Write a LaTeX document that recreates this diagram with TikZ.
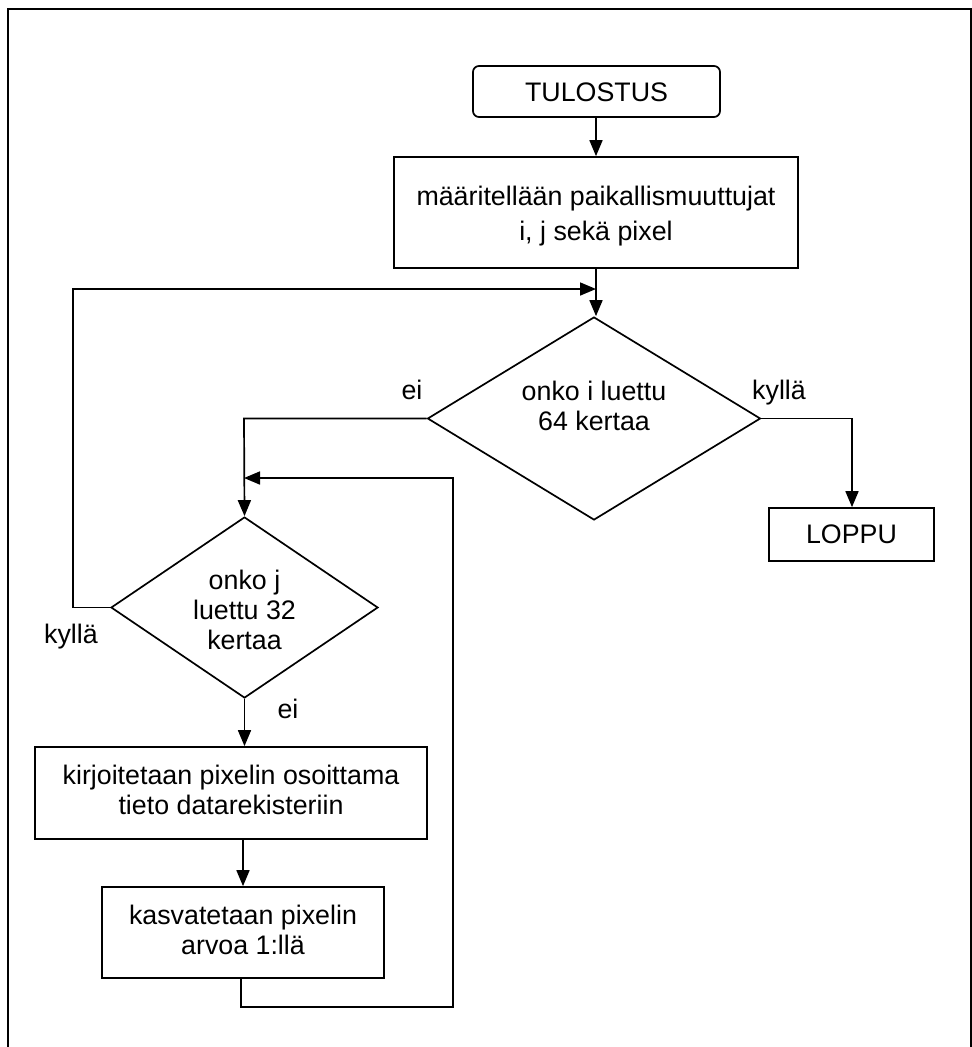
\documentclass[tikz,border=0pt]{standalone}
\usepackage{fontspec}
\setmainfont{Liberation Sans}
\usetikzlibrary{shapes.geometric,arrows.meta}
\begin{document}
\begin{tikzpicture}[x=1pt,y=-1pt,
  every node/.style={font=\fontsize{26.8}{30}\selectfont},
  lin/.style={line width=1.7pt},
  arr/.style={lin,-{Triangle[width=13pt,length=16pt]}},
  boxr/.style={draw,line width=1.7pt,rectangle,inner sep=0pt},
  dia/.style={draw,line width=1.7pt,diamond,inner sep=0pt},
  txt/.style={inner sep=0pt,align=center},
  lbl/.style={anchor=base,inner sep=0pt}]
\useasboundingbox (0,0) rectangle (972,1047);
\draw[lin] (8,1047) -- (8,9) -- (971,9) -- (971,1047);
% shapes
\node[boxr,rounded corners=6pt,minimum width=247pt,minimum height=51pt] (tul) at (596.5,91.5) {};
\node[boxr,minimum width=404pt,minimum height=111pt] (def) at (596,212.5) {};
\node[dia,minimum width=333pt,minimum height=203pt] (d1) at (594,418.5) {};
\node[boxr,minimum width=165pt,minimum height=53pt] (loppu) at (851.5,534.5) {};
\node[dia,minimum width=267pt,minimum height=181pt] (d2) at (244.5,607.5) {};
\node[boxr,minimum width=392pt,minimum height=92pt] (kir) at (231,793) {};
\node[boxr,minimum width=282pt,minimum height=91pt] (kas) at (243,932.5) {};
% texts
\node[txt] (tult) at ([yshift=-1pt]tul.center) {TULOSTUS};
\node[txt,font=\fontsize{26.8}{35}\selectfont] (deft) at ([yshift=-4pt]def.center) {määritellään paikallismuuttujat\\i, j sekä pixel};
\node[txt] (d1t) at ([yshift=13pt]d1.center) {onko i luettu\\64 kertaa};
\node[txt] (loppt) at (loppu.center) {LOPPU};
\node[txt] (d2t) at ([yshift=-2pt]d2.center) {onko j\\luettu 32\\kertaa};
\node[txt] (kirt) at ([yshift=3pt]kir.center) {kirjoitetaan pixelin osoittama\\tieto datarekisteriin};
\node[txt] (kast) at ([yshift=3pt]kas.center) {kasvatetaan pixelin\\arvoa 1:llä};
\coordinate (jn) at (596,289);
\coordinate (jn2) at (244,478);
\node[lbl] (l1) at (412,399) {ei};
\node[lbl] (l2) at (779,399) {kyllä};
\node[lbl] (l3) at (71,643) {kyllä};
\node[lbl] (l4) at (288,718) {ei};
% connectors
\draw[arr] (tul.south -| jn) -- (def.north -| jn);
\draw[arr] (def.south -| jn) -- (d1.north -| jn);
\draw[arr] (d2.west) -- (73,607.5) -- (73,289) -- (jn);
\draw[arr] (d1.west) -- (244,418.5) -- (d2.north);
\draw[arr] (d1.east) -- (852,418.5) -- (loppu.north -| 852,0);
\draw[arr] (d2.south) -- (d2.south |- kir.north);
\draw[arr] (kas.north |- kir.south) -- (kas.north);
\draw[arr] (kas.south -| 241,0) -- (241,1007) -- (453,1007) -- (453,478) -- (jn2);
\end{tikzpicture}
\end{document}
